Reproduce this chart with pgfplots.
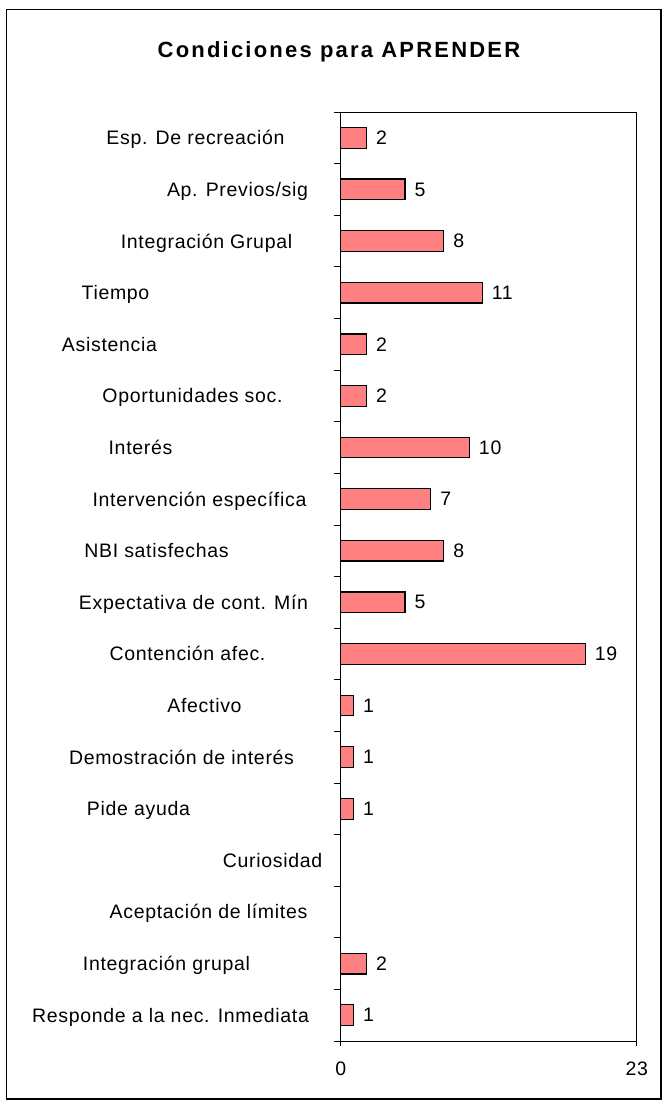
\documentclass[border=0pt]{standalone}
\usepackage{pgfplots}
\pgfplotsset{compat=1.18}
\usepackage{fontspec}
\setmainfont{Liberation Sans}[LetterSpace=3.5]
\definecolor{barpink}{HTML}{FF8080}
\newcommand{\lab}[2]{\makebox[0pt][c]{#2}\kern\dimexpr 341bp-#1bp\relax}
\begin{document}
\begin{tikzpicture}
\useasboundingbox (0,0) rectangle (665bp,-1102bp);
\draw[line width=1.5bp] (6.5bp,-9.5bp) rectangle (661bp,-1099bp);
\node[anchor=base] at (339bp,-57bp) {\fontsize{22bp}{26bp}\selectfont\bfseries\addfontfeatures{LetterSpace=10}Condiciones para APRENDER};
\begin{axis}[
  at={(340.7bp,-1041bp)}, anchor=south west,
  width=296bp, height=929bp, scale only axis,
  xbar, bar width=20.7bp,
  xmin=0, xmax=23, ymin=0.5, ymax=18.5, y dir=reverse,
  xtick={0,23}, ytick={1,...,18},
  minor ytick={0.5,1.5,...,18.5},
  xtick pos=bottom, ytick pos=left,
  tick align=outside, major tick length=5bp, minor tick length=7bp,
  major y tick style={draw=none},
  minor y tick style={draw=black, line width=0.8bp},
  major x tick style={draw=black, line width=0.8bp},
  axis line style={line width=1bp, black},
  font=\fontsize{19.5bp}{23.4bp}\selectfont,
  /pgf/number format/assume math mode=true,
  xticklabel style={anchor=base, yshift=-29bp},
  yticklabel style={anchor=base east, inner sep=0pt, xshift=5bp, yshift=-7bp},
  yticklabels={
    \lab{196}{Esp. De recreación},
    \lab{238}{Ap. Previos/sig},
    \lab{207}{Integración Grupal},
    \lab{116}{Tiempo},
    \lab{110}{Asistencia},
    \lab{193}{Oportunidades soc.},
    \lab{141}{Interés},
    \lab{200}{Intervención específica},
    \lab{157}{NBI satisfechas},
    \lab{194}{Expectativa de cont. Mín},
    \lab{188}{Contención afec.},
    \lab{205}{Afectivo},
    \lab{182}{Demostración de interés},
    \lab{139}{Pide ayuda},
    \lab{273}{Curiosidad},
    \lab{209}{Aceptación de límites},
    \lab{167}{Integración grupal},
    \lab{171}{Responde a la nec. Inmediata}},
  nodes near coords, nodes near coords align=horizontal,
  every node near coord/.append style={anchor=west, inner sep=0pt, xshift=9bp, font=\fontsize{19.5bp}{23.4bp}\selectfont},
  clip=false,
]
% Curiosidad (15) and Aceptación de límites (16) have value 0: no bar
\addplot[fill=barpink, draw=black, line width=1.2bp] coordinates {
  (2,1) (5,2) (8,3) (11,4) (2,5) (2,6) (10,7) (7,8) (8,9) (5,10)
  (19,11) (1,12) (1,13) (1,14) (2,17) (1,18)
};
\end{axis}
\end{tikzpicture}
\end{document}
